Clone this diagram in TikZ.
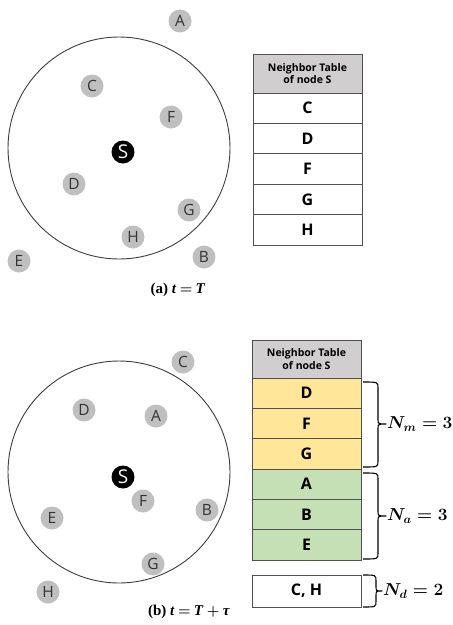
\documentclass[tikz,border=0pt]{standalone}
\usepackage{fontspec}
\usepackage{amsmath,bm}
\newfontfamily\labelfont{Open Sans}
\newfontfamily\capfont{Liberation Serif}
\definecolor{nodegray}{HTML}{BFBFBF}
\definecolor{textgray}{HTML}{333333}
\definecolor{rangegray}{HTML}{3C3C3C}
\definecolor{headgray}{HTML}{D0CECE}
\definecolor{cellborder}{HTML}{505050}
\definecolor{movedfill}{HTML}{FFE699}
\definecolor{addedfill}{HTML}{C5E0B4}
% brace: #1 = left x, #2 = vertical x, #3 = tip x, #4 = top y, #5 = tip y, #6 = bottom y
\newcommand\neighborbrace[6]{%
  \draw[nbrace] (#1,#4) .. controls (#2,#4) .. (#2,#4+6) -- (#2,#5-5)
    .. controls (#2,#5) .. (#3,#5) .. controls (#2,#5) .. (#2,#5+5)
    -- (#2,#6-6) .. controls (#2,#6) .. (#1,#6);}
% bold math relation/operator set between caption words
\newcommand\capop[1]{\hspace{0.22em}{\boldmath$#1$}\hspace{0.22em}}
\begin{document}
\begin{tikzpicture}[x=1pt,y=-1pt]
\useasboundingbox (0,0) rectangle (453,625);
\tikzset{
  peer/.style={circle, fill=nodegray, minimum size=23pt, inner sep=0pt,
    font=\labelfont\fontsize{15.5}{15.5}\selectfont, text=textgray},
  src/.style={circle, fill=black, minimum size=23pt, inner sep=0pt,
    font=\labelfont\fontsize{19}{19}\selectfont, text=white},
  radiocircle/.style={draw=rangegray, line width=0.9pt},
  cell/.style={draw=cellborder, line width=0.8pt, minimum width=109pt,
    inner sep=0pt, font=\labelfont\bfseries\fontsize{16}{16}\selectfont},
  head/.style={cell, fill=headgray, align=center,
    font=\labelfont\bfseries\fontsize{10.5}{12.5}\selectfont},
  captiontext/.style={font=\capfont\bfseries\fontsize{15}{15}\selectfont},
  countlabel/.style={anchor=west, inner sep=0pt, font=\fontsize{17}{17}\selectfont\boldmath},
  nbrace/.style={line width=1.1pt, line join=round}
}

% ---------- (a) t = T ----------
\draw[radiocircle] (119,148) circle[radius=111];
\node[peer] (aA) at (180,21)  {A};
\node[peer] (aC) at (92,86)   {C};
\node[peer] (aF) at (171,117) {F};
\node[src]  (aS) at (123,152) {S};
\node[peer] (aD) at (74,184)  {D};
\node[peer] (aG) at (189,210) {G};
\node[peer] (aH) at (133,237) {H};
\node[peer] (aB) at (204,257) {B};
\node[peer] (aE) at (19,261)  {E};
\node[captiontext] (capA) at (178,290) {(a) \textit{t}\capop{=}\textit{T}};

\node[head, minimum height=39pt] (ahead) at (307.5,73.5) {Neighbor Table\\of node S};
\node[cell, minimum height=30.4pt] (arC) at (307.5,108.2) {C};
\node[cell, minimum height=30.4pt] (arD) at (307.5,138.6) {D};
\node[cell, minimum height=30.4pt] (arF) at (307.5,169.0) {F};
\node[cell, minimum height=30.4pt] (arG) at (307.5,199.4) {G};
\node[cell, minimum height=30.4pt] (arH) at (307.5,229.8) {H};

% ---------- (b) t = T + tau ----------
\draw[radiocircle] (119,472) circle[radius=111];
\node[peer] (bC) at (183,362) {C};
\node[peer] (bD) at (84,410)  {D};
\node[peer] (bA) at (156,416) {A};
\node[src]  (bS) at (123,477) {S};
\node[peer] (bF) at (143,501) {F};
\node[peer] (bB) at (207,510) {B};
\node[peer] (bE) at (52,518)  {E};
\node[peer] (bG) at (153,564) {G};
\node[peer] (bH) at (48,592)  {H};
\node[captiontext] (capB) at (189,612) {(b) \textit{t}\capop{=}\textit{T}\capop{+}\textit{τ}};

\node[head, minimum height=38pt] (bhead) at (306.5,359) {Neighbor Table\\of node S};
\node[cell, fill=movedfill, minimum height=30.33pt] (brD) at (306.5,393.2) {D};
\node[cell, fill=movedfill, minimum height=30.33pt] (brF) at (306.5,423.5) {F};
\node[cell, fill=movedfill, minimum height=30.33pt] (brG) at (306.5,453.8) {G};
\node[cell, fill=addedfill, minimum height=30.33pt] (brA) at (306.5,484.2) {A};
\node[cell, fill=addedfill, minimum height=30.33pt] (brB) at (306.5,514.5) {B};
\node[cell, fill=addedfill, minimum height=30.33pt] (brE) at (306.5,544.8) {E};
\node[cell, minimum height=32pt] (brCH) at (306.5,591) {C, H};

\neighborbrace{363}{378}{386}{382}{424}{467}
\neighborbrace{363}{378}{386}{473}{516}{559}
\neighborbrace{363}{376}{382}{575}{591}{607}
\node[countlabel] (nm) at (387,424) {$N_m = 3$};
\node[countlabel] (na) at (387,516) {$N_a = 3$};
\node[countlabel] (nd) at (383,591) {$N_d = 2$};
\end{tikzpicture}
\end{document}
